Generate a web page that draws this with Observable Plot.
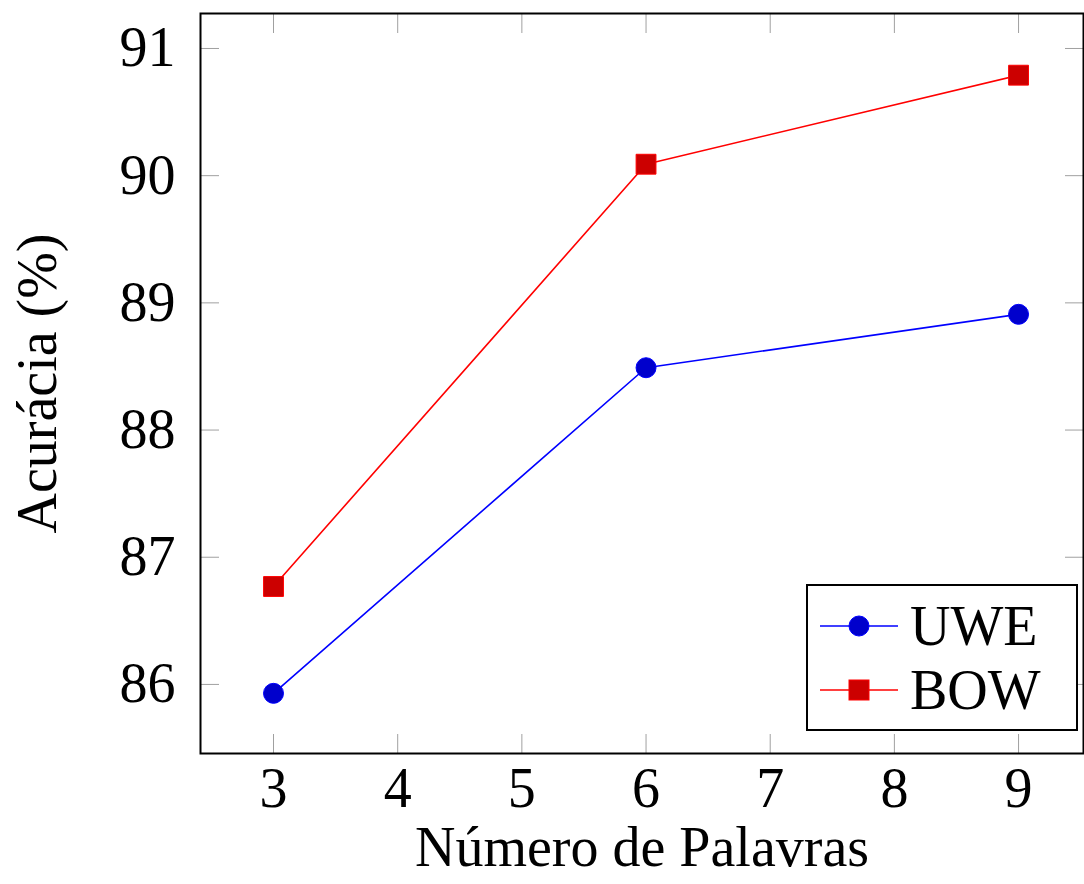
<!DOCTYPE html>
<html>
<head>
<meta charset="utf-8">
<script src="https://cdn.jsdelivr.net/npm/d3@7"></script>
<script src="https://cdn.jsdelivr.net/npm/@observablehq/plot@0.6"></script>
<style>
  html, body { margin: 0; padding: 0; background: white; }
  #wrap { position: relative; width: 1084px; height: 884px; font-family: "Liberation Serif", serif; }
  #legend { position: absolute; left: 806px; top: 584px; width: 272px; height: 147px; box-sizing: border-box; border: 2px solid black; background: white; }
  .row { position: absolute; left: 0; height: 64px; display: flex; align-items: center; }
  .row svg { display: block; margin-left: 12px; }
  .row span { font-size: 56px; margin-left: 10px; line-height: 64px; }
</style>
</head>
<body>
<div id="wrap"></div>
<script>
const palavras = [3, 6, 9];
const uwe = [85.93, 88.49, 88.91];
const bow = [86.77, 90.09, 90.79];
const seriesNames = ["UWE", "BOW"];
const xTicks = [3, 4, 5, 6, 7, 8, 9];
const yTicks = [86, 87, 88, 89, 90, 91];

const lineColors = {UWE: "#0000ff", BOW: "#ff0000"};
const fillColors = {UWE: "#0000cc", BOW: "#cc0000"};
const symbols = {UWE: "circle", BOW: "square"};

const rows = [];
palavras.forEach((p, i) => {
  rows.push({serie: "UWE", x: p, y: uwe[i]});
  rows.push({serie: "BOW", x: p, y: bow[i]});
});

const tickStroke = "#a0a0a0";
const plot = Plot.plot({
  width: 1084,
  height: 884,
  marginLeft: 200,
  marginRight: 1,
  marginTop: 13,
  marginBottom: 131,
  style: {fontFamily: "Liberation Serif, serif", fontSize: "56px", color: "black", background: "white", overflow: "visible"},
  x: {domain: [2.412, 9.523]},
  y: {domain: [85.457, 91.275]},
  marks: [
    Plot.axisX(xTicks, {anchor: "bottom", tickSize: 0, tickPadding: 14, tickFormat: "d", label: "Número de Palavras", labelAnchor: "center", labelArrow: "none", labelOffset: 112, fontSize: 56}),
    Plot.axisX(xTicks, {anchor: "bottom", tickSize: -19, text: null, stroke: tickStroke, label: null}),
    Plot.axisX(xTicks, {anchor: "top", tickSize: -19, text: null, stroke: tickStroke, label: null}),
    Plot.axisY(yTicks, {anchor: "left", tickSize: 0, tickPadding: 25, tickFormat: "d", label: "Acurácia (%)", labelAnchor: "center", labelOffset: 184, labelArrow: "none", fontSize: 56}),
    Plot.axisY(yTicks, {anchor: "left", tickSize: -19, text: null, stroke: tickStroke, label: null}),
    Plot.axisY(yTicks, {anchor: "right", tickSize: -19, text: null, stroke: tickStroke, label: null}),
    Plot.line(rows.filter(d => d.serie === "UWE"), {x: "x", y: "y", stroke: lineColors.UWE, strokeWidth: 1.6}),
    Plot.line(rows.filter(d => d.serie === "BOW"), {x: "x", y: "y", stroke: lineColors.BOW, strokeWidth: 1.6}),
    Plot.dot(rows.filter(d => d.serie === "UWE"), {x: "x", y: "y", r: 10, symbol: "circle", fill: fillColors.UWE, stroke: lineColors.UWE, strokeWidth: 1}),
    Plot.dot(rows.filter(d => d.serie === "BOW"), {x: "x", y: "y", r: 11.2, symbol: "square", fill: fillColors.BOW, stroke: lineColors.BOW, strokeWidth: 1}),
    Plot.frame({stroke: "black", strokeWidth: 2})
  ]
});

const wrap = document.getElementById("wrap");
wrap.appendChild(plot);

// Legend
const legend = document.createElement("div");
legend.id = "legend";
seriesNames.forEach((name, i) => {
  const row = document.createElement("div");
  row.className = "row";
  row.style.top = (8 + i * 64) + "px";
  const svg = d3.create("svg").attr("width", 80).attr("height", 30);
  svg.append("line").attr("x1", 0).attr("x2", 78).attr("y1", 15).attr("y2", 15)
    .attr("stroke", lineColors[name]).attr("stroke-width", 1.6);
  if (symbols[name] === "circle") {
    svg.append("circle").attr("cx", 39).attr("cy", 15).attr("r", 10)
      .attr("fill", fillColors[name]).attr("stroke", lineColors[name]);
  } else {
    svg.append("rect").attr("x", 29).attr("y", 5).attr("width", 20).attr("height", 20)
      .attr("fill", fillColors[name]).attr("stroke", lineColors[name]);
  }
  row.appendChild(svg.node());
  const span = document.createElement("span");
  span.textContent = name;
  row.appendChild(span);
  legend.appendChild(row);
});
wrap.appendChild(legend);
</script>
</body>
</html>
